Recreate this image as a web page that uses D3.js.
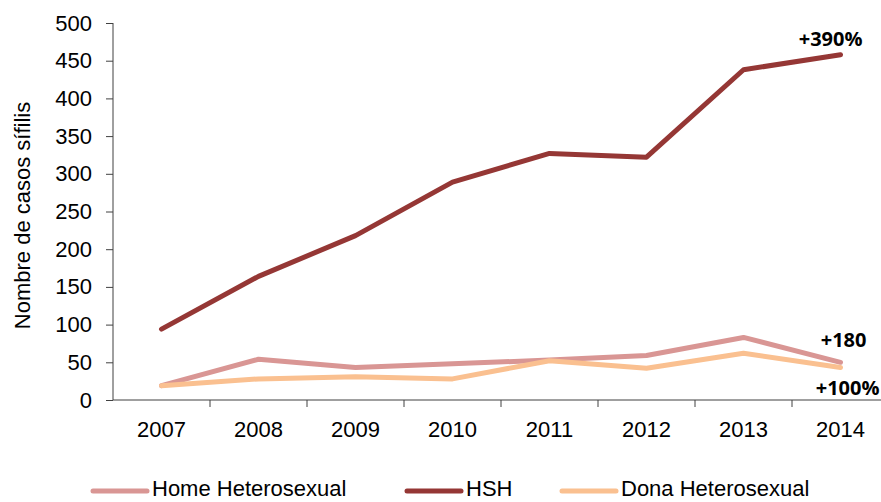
<!DOCTYPE html>
<html lang="ca">
<head>
<meta charset="UTF-8" />
<title>Casos sífilis</title>
<script src="https://d3js.org/d3.v7.min.js"></script>
<style>
  body { margin: 0; background: #fff; }
  svg text { font-family: "Liberation Sans", Arial, sans-serif; }
  svg text.note { font-family: "Open Sans", "Liberation Sans", sans-serif; font-weight: bold; }
</style>
</head>
<body>
<div id="chart"></div>
<script>
const years = ["2007", "2008", "2009", "2010", "2011", "2012", "2013", "2014"];
const homeHetero = [19, 54, 43, 48, 53, 59, 83, 50];
const hsh = [94, 164, 218, 289, 327, 322, 438, 458];
const donaHetero = [19, 28, 31, 28, 52, 42, 62, 43];
const yTicks = [0, 50, 100, 150, 200, 250, 300, 350, 400, 450, 500];

const series = [
  { name: "Home Heterosexual", values: homeHetero, color: "#d99694" },
  { name: "HSH", values: hsh, color: "#953735" },
  { name: "Dona Heterosexual", values: donaHetero, color: "#fac090" }
];

const width = 881, height = 502;
const margin = { top: 23, right: -8, bottom: 102, left: 113 };

const svg = d3.select("#chart").append("svg")
  .attr("width", width)
  .attr("height", height);

const x = d3.scaleBand().domain(years).range([margin.left, width - margin.right]);
const y = d3.scaleLinear().domain([0, 500]).range([height - margin.bottom, margin.top]);

// y axis
const yAxis = svg.append("g")
  .attr("transform", `translate(${margin.left},0)`)
  .call(d3.axisLeft(y).tickValues(yTicks).tickSize(7).tickPadding(14));
yAxis.selectAll("text").attr("font-size", 22).attr("fill", "#000");
yAxis.selectAll("line, path").attr("stroke", "#404040");
yAxis.select(".domain").attr("d", `M0,${y(500)}V${y(0)}`);

// x axis (ticks at category boundaries)
const xAxis = svg.append("g")
  .attr("transform", `translate(0,${y(0)})`);
xAxis.append("line")
  .attr("x1", margin.left).attr("x2", width)
  .attr("stroke", "#404040");
xAxis.selectAll("line.tick")
  .data(years)
  .join("line")
  .attr("class", "tick")
  .attr("x1", d => x(d) + x.bandwidth())
  .attr("x2", d => x(d) + x.bandwidth())
  .attr("y2", 7)
  .attr("stroke", "#404040");
xAxis.selectAll("text")
  .data(years)
  .join("text")
  .attr("x", d => x(d) + x.bandwidth() / 2)
  .attr("y", 37)
  .attr("text-anchor", "middle")
  .attr("font-size", 22)
  .text(d => d);

// y title
svg.append("text")
  .attr("transform", `translate(30,${(y(0) + y(500)) / 2 + 4}) rotate(-90)`)
  .attr("text-anchor", "middle")
  .attr("font-size", 22)
  .text("Nombre de casos sífilis");

// lines
const line = d3.line()
  .x((d, i) => x(years[i]) + x.bandwidth() / 2)
  .y(d => y(d));

svg.selectAll("path.series")
  .data(series)
  .join("path")
  .attr("class", "series")
  .attr("fill", "none")
  .attr("stroke", d => d.color)
  .attr("stroke-width", 5)
  .attr("stroke-linejoin", "round")
  .attr("stroke-linecap", "round")
  .attr("d", d => line(d.values));

// annotations
const notes = [
  { text: "+390%", v: hsh[7], dy: -9, dx: 22 },
  { text: "+180", v: homeHetero[7], dy: -15, dx: 26 },
  { text: "+100%", v: donaHetero[7], dy: 27, dx: 39 }
];
svg.selectAll("text.note")
  .data(notes)
  .join("text")
  .attr("class", "note")
  .attr("x", d => x(years[7]) + x.bandwidth() / 2 + d.dx)
  .attr("y", d => y(d.v) + d.dy)
  .attr("text-anchor", "end")
  .attr("font-size", 20)
  .text(d => d.text);

// legend
const legendItems = [
  { s: series[0], x: 93 },
  { s: series[1], x: 407 },
  { s: series[2], x: 562 }
];
const lg = svg.selectAll("g.legend")
  .data(legendItems)
  .join("g")
  .attr("class", "legend")
  .attr("transform", d => `translate(${d.x},491)`);
lg.append("line")
  .attr("x2", 54)
  .attr("stroke", d => d.s.color)
  .attr("stroke-width", 5)
  .attr("stroke-linecap", "round");
lg.append("text")
  .attr("x", 59)
  .attr("y", 5)
  .attr("font-size", 22)
  .text(d => d.s.name);
</script>
</body>
</html>
